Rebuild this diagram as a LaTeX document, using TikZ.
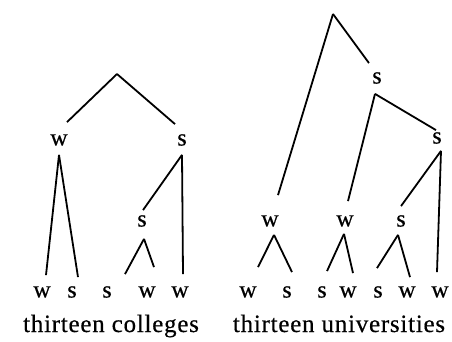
\documentclass[tikz,border=0pt]{standalone}
\usepackage{fontspec}
\setmainfont{Liberation Serif}[FakeBold=0.6]
\newfontfamily\capfont[LetterSpace=3,FakeBold=0.4]{Liberation Serif}
\begin{document}
\begin{tikzpicture}[x=1pt,y=-1pt,line width=1.8pt,
	lab/.style={inner sep=0pt,minimum height=28pt,font=\fontsize{24}{28}\selectfont},
	captxt/.style={anchor=base,font=\capfont\fontsize{25}{30}\selectfont}]
	\useasboundingbox (0,0) rectangle (452,341);
	% thirteen colleges
	\coordinate (rA) at (117,74);
	\node[lab] (wA) at (59,140) {w};
	\node[lab] (sA) at (182,140) {s};
	\node[lab] (sB) at (142,221) {s};
	\node[lab] (l1) at (42,292) {w};
	\node[lab] (l2) at (72,292) {s};
	\node[lab] (l3) at (107,292) {s};
	\node[lab] (l4) at (147,292) {w};
	\node[lab] (l5) at (180,292) {w};
	\draw (rA) -- ([xshift=8pt,yshift=3pt]wA.north);
	\draw (rA) -- ([xshift=-7pt,yshift=1pt]sA.north);
	\draw (wA.south) -- ([xshift=4pt,yshift=2pt]l1.north);
	\draw (wA.south) -- ([xshift=6pt]l2.north);
	\draw (sA.south) -- ([xshift=1pt,yshift=-4pt]sB.north);
	\draw (sA.south) -- ([xshift=3pt,yshift=3pt]l5.north);
	\draw ([xshift=2pt,yshift=-3pt]sB.south) -- ([xshift=18pt,yshift=3pt]l3.north);
	\draw ([xshift=2pt,yshift=-3pt]sB.south) -- ([xshift=7pt,yshift=10pt]l4.north);
	\node[captxt] (cA) at (111,332) {thirteen colleges};
	% thirteen universities
	\coordinate (rB) at (333,14);
	\node[lab] (sC) at (377,78) {s};
	\node[lab] (sD) at (437,138) {s};
	\node[lab] (wE) at (270,221) {w};
	\node[lab] (wF) at (345,221) {w};
	\node[lab] (sG) at (401,221) {s};
	\node[lab] (m1) at (248,292) {w};
	\node[lab] (m2) at (287,292) {s};
	\node[lab] (m3) at (322,292) {s};
	\node[lab] (m4) at (348,292) {w};
	\node[lab] (m5) at (378,292) {s};
	\node[lab] (m6) at (407,292) {w};
	\node[lab] (m7) at (440,292) {w};
	\draw (rB) -- ([xshift=8pt,yshift=11pt]wE.north);
	\draw (rB) -- ([xshift=-8pt]sC.north);
	\draw ([xshift=-2pt,yshift=-1pt]sC.south) -- ([xshift=3pt,yshift=5pt]wF.north);
	\draw ([xshift=-2pt,yshift=-1pt]sC.south) -- ([xshift=-1pt,yshift=-7pt]sD.north);
	\draw ([xshift=4pt,yshift=2pt]sD.south) -- ([yshift=0pt]sG.north);
	\draw ([xshift=4pt,yshift=2pt]sD.south) -- ([xshift=-3pt,yshift=5pt]m7.north);
	\draw ([xshift=4pt,yshift=1pt]wE.south) -- ([xshift=10pt,yshift=10pt]m1.north);
	\draw ([xshift=4pt,yshift=1pt]wE.south) -- ([xshift=5pt,yshift=5pt]m2.north);
	\draw ([xshift=-1pt,yshift=2pt]wF.south) -- ([xshift=5pt,yshift=6pt]m3.north);
	\draw ([xshift=-1pt,yshift=2pt]wF.south) -- ([xshift=5pt,yshift=4pt]m4.north);
	\draw ([xshift=-3pt,yshift=1pt]sG.south) -- ([xshift=-1pt,yshift=9pt]m5.north);
	\draw ([xshift=-3pt,yshift=1pt]sG.south) -- ([xshift=3pt]m6.north);
	\node[captxt] (cB) at (339,332) {thirteen universities};
\end{tikzpicture}
\end{document}
